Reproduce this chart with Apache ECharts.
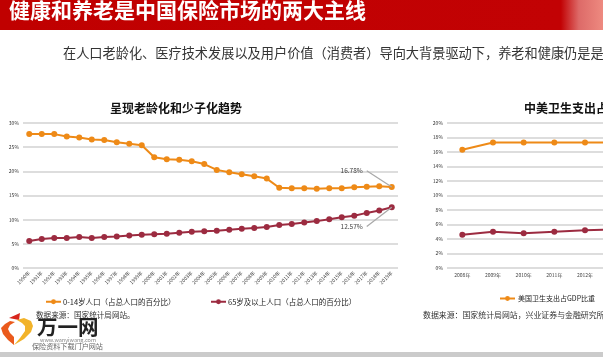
<!DOCTYPE html>
<html>
<head>
<meta charset="utf-8">
<style>
    html, body { margin: 0; padding: 0; background: #fff; overflow: hidden; }
    #main { width: 603px; height: 357px; }
</style>
<script src="https://cdn.jsdelivr.net/npm/echarts@6/dist/echarts.min.js"></script>
</head>
<body>
<div id="main"></div>
<script>
const years = ['1990年', '1991年', '1992年', '1993年', '1994年', '1995年', '1996年', '1997年', '1998年', '1999年',
    '2000年', '2001年', '2002年', '2003年', '2004年', '2005年', '2006年', '2007年', '2008年', '2009年',
    '2010年', '2011年', '2012年', '2013年', '2014年', '2015年', '2016年', '2017年', '2018年', '2019年'];
const youngShare = [27.7, 27.7, 27.7, 27.2, 27.0, 26.6, 26.5, 26.0, 25.7, 25.4,
    22.9, 22.5, 22.4, 22.1, 21.5, 20.3, 19.8, 19.4, 19.0, 18.5,
    16.6, 16.5, 16.5, 16.4, 16.5, 16.5, 16.7, 16.8, 16.9, 16.78];
const oldShare = [5.6, 6.0, 6.2, 6.2, 6.4, 6.2, 6.4, 6.5, 6.7, 6.9,
    7.0, 7.1, 7.3, 7.5, 7.6, 7.7, 7.9, 8.1, 8.3, 8.5,
    8.9, 9.1, 9.4, 9.7, 10.1, 10.5, 10.8, 11.4, 11.9, 12.57];
const healthYears = ['2008年', '2009年', '2010年', '2011年', '2012年', '2013年'];
const usHealth = [16.3, 17.3, 17.3, 17.3, 17.3, 17.3];
const cnHealth = [4.6, 5.0, 4.8, 5.0, 5.2, 5.3];

const FONT = '"Noto Sans CJK SC", sans-serif';
const ORANGE = '#ee8a17';
const MAROON = '#9c2b40';

function lineSeries(name, data, color, xAxisIndex, yAxisIndex) {
    return {
        name, data, type: 'line', xAxisIndex, yAxisIndex,
        symbol: 'circle', symbolSize: 6, animation: false,
        lineStyle: { color, width: 2 },
        itemStyle: { color }
    };
}

function valueAxis(gridIndex, max, interval) {
    return {
        type: 'value', gridIndex, min: 0, max, interval,
        axisLine: { show: false }, axisTick: { show: false },
        axisLabel: { formatter: '{value}%', fontSize: 5, color: '#333', margin: 4, fontFamily: FONT },
        splitLine: { lineStyle: { color: '#d2d2d2', width: 1.5 } }
    };
}

function text(x, y, str, fontSize, fontWeight, fill) {
    return { type: 'text', x, y, style: { text: str, fontSize, fontWeight, fill, fontFamily: FONT, textVerticalAlign: 'middle' } };
}

function polygon(points, fill) {
    return { type: 'polygon', shape: { points }, style: { fill } };
}

// 引线和数值标注
function callout(value, labelValue, startValue) {
    return {
        markLine: {
            silent: true, symbol: 'none', animation: false,
            label: { show: false },
            lineStyle: { color: '#a8a8a8', width: 1.2, type: 'solid' },
            data: [[{ xAxis: '2017年', yAxis: startValue }, { xAxis: '2019年', yAxis: value }]]
        },
        markPoint: {
            silent: true, symbol: 'circle', symbolSize: 0, animation: false,
            data: [{ xAxis: '2017年', yAxis: startValue }],
            label: { show: true, position: 'left', formatter: labelValue, fontSize: 6.5, color: '#444', distance: 4, fontFamily: FONT }
        }
    };
}

const chart = echarts.init(document.getElementById('main'), null, { renderer: 'canvas' });
chart.setOption({
    animation: false,
    backgroundColor: '#fff',
    grid: [
        { left: 23, top: 123, width: 375, height: 145, outerBoundsMode: 'none' },
        // 右图在原图中被页面右边裁掉
        { left: 447, top: 123, width: 184, height: 145, outerBoundsMode: 'none' }
    ],
    xAxis: [
        {
            type: 'category', gridIndex: 0, data: years,
            axisLine: { show: false }, axisTick: { show: false },
            axisLabel: { interval: 0, rotate: 45, fontSize: 5, color: '#444', margin: 4, fontFamily: FONT }
        },
        {
            type: 'category', gridIndex: 1, data: healthYears,
            axisLine: { show: false }, axisTick: { show: false },
            axisLabel: { interval: 0, fontSize: 5, color: '#444', margin: 5, fontFamily: FONT }
        }
    ],
    yAxis: [valueAxis(0, 30, 5), valueAxis(1, 20, 2)],
    legend: [
        {
            left: 45, top: 298, itemWidth: 15, itemHeight: 6, itemGap: 0, padding: 0,
            data: ['0-14岁人口（占总人口的百分比）'],
            textStyle: { fontSize: 7.5, color: '#222', fontFamily: FONT, padding: [0, 0, 0, -3] }
        },
        {
            left: 210, top: 298, itemWidth: 15, itemHeight: 6, itemGap: 0, padding: 0,
            data: ['65岁及以上人口（占总人口的百分比）'],
            textStyle: { fontSize: 7.5, color: '#222', fontFamily: FONT, padding: [0, 0, 0, -3] }
        },
        {
            left: 499, top: 295, itemWidth: 15, itemHeight: 6, itemGap: 0, padding: 0,
            data: ['美国卫生支出占GDP比重'],
            textStyle: { fontSize: 7, color: '#222', fontFamily: FONT, padding: [0, 0, 0, -2] }
        }
    ],
    series: [
        Object.assign(lineSeries('0-14岁人口（占总人口的百分比）', youngShare, ORANGE, 0, 0), callout(16.78, '16.78%', 20.1)),
        Object.assign(lineSeries('65岁及以上人口（占总人口的百分比）', oldShare, MAROON, 0, 0), callout(12.57, '12.57%', 8.6)),
        lineSeries('美国卫生支出占GDP比重', usHealth, ORANGE, 1, 1),
        lineSeries('中国卫生支出占GDP比重', cnHealth, MAROON, 1, 1)
    ],
    graphic: [
        // 顶部红色标题栏
        {
            type: 'rect', z: -1, shape: { x: 0, y: 0, width: 603, height: 30 },
            style: {
                fill: new echarts.graphic.LinearGradient(0, 0, 1, 0, [
                    { offset: 0, color: '#c00000' },
                    { offset: 0.93, color: '#c20204' },
                    { offset: 0.96, color: '#dd6a68' },
                    { offset: 1, color: '#ee8a80' }
                ])
            }
        },
        text(9, 10, '健康和养老是中国保险市场的两大主线', 21, 'bold', '#fff'),
        text(63, 53, '在人口老龄化、医疗技术发展以及用户价值（消费者）导向大背景驱动下，养老和健康仍是是', 13.2, 'normal', '#333'),
        text(110, 108, '呈现老龄化和少子化趋势', 12, 'bold', '#111'),
        text(524, 108, '中美卫生支出占GDP比重', 12, 'bold', '#111'),
        text(36, 315, '数据来源：国家统计局网站。', 7.6, 'normal', '#333'),
        text(423, 315, '数据来源：国家统计局网站，兴业证券与金融研究所', 7.9, 'normal', '#333'),

        // 万一网水印
        polygon([[9, 318], [20, 313], [19, 320]], '#d8261c'),
        polygon([[17, 320], [24, 318], [31, 321], [33, 326], [31, 332], [24, 339], [14, 345], [20, 338], [25, 331], [25, 326], [22, 323]], '#f2b32a'),
        polygon([[1, 328], [5, 324], [10, 321], [15, 322], [10, 325], [8, 329], [10, 333], [14, 337], [14, 345], [8, 340], [3, 334]], '#ea5a1c'),
        text(37, 327, '万一网', 20.5, 'bold', '#222'),
        text(40, 339.5, 'www.wanyiwang.com', 5.5, 'normal', '#888'),
        text(32, 346.5, '保险资料下载门户网站', 7.1, 'normal', '#666'),

        // 底部灰条
        { type: 'rect', z: -1, shape: { x: 0, y: 352, width: 603, height: 5 }, style: { fill: '#cbcbcb' } }
    ]
});
</script>
</body>
</html>
